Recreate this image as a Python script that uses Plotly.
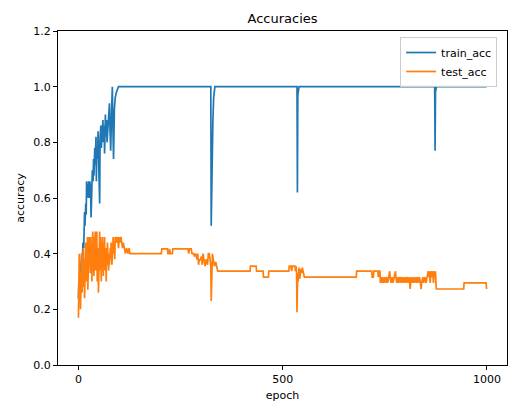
import plotly.graph_objects as go

# ---- data ----
train_epoch = [0, 1, 3, 5, 7, 8, 10, 11, 13, 14, 15, 16, 18, 19, 20, 21, 22, 24, 25, 27, 28, 30,
               31, 33, 34, 36, 37, 38, 40, 41, 43, 44, 45, 47, 48, 50, 52, 53, 55, 56, 58, 60,
               61, 63, 64, 66, 67, 69, 70, 72, 74, 76, 77, 79, 81, 83, 84, 86, 88, 90, 93, 96,
               98, 324, 325, 329, 331, 334, 535, 536, 537, 540, 872, 873, 874, 876, 999]
train_acc = [0.24, 0.30, 0.27, 0.34, 0.37, 0.40, 0.38, 0.44, 0.42, 0.52, 0.55, 0.50, 0.58, 0.54,
             0.66, 0.62, 0.65, 0.60, 0.66, 0.60, 0.66, 0.62, 0.53, 0.62, 0.70, 0.66, 0.74, 0.68,
             0.78, 0.72, 0.82, 0.66, 0.78, 0.74, 0.84, 0.70, 0.58, 0.82, 0.86, 0.78, 0.84, 0.88,
             0.80, 0.86, 0.76, 0.90, 0.82, 0.88, 0.80, 0.86, 0.92, 0.94, 0.86, 0.77, 0.90, 1.00,
             0.88, 0.74, 0.92, 0.96, 0.98, 0.99, 1.00, 1.00, 0.50, 0.87, 0.96, 1.00, 1.00, 0.62,
             0.97, 1.00, 1.00, 0.77, 0.98, 1.00, 1.00]

# test accuracy as (epoch, value) pairs, in segments
test_early = [(0, 0.17), (1, 0.28), (2, 0.40), (3, 0.24), (4, 0.33), (5, 0.20), (6, 0.36),
              (7, 0.30), (8, 0.40), (9, 0.26), (10, 0.38), (11, 0.33), (12, 0.42), (13, 0.28),
              (14, 0.38), (15, 0.24), (16, 0.40), (17, 0.35), (18, 0.44), (19, 0.30), (20, 0.42),
              (21, 0.36), (22, 0.46), (23, 0.27), (24, 0.40), (25, 0.34), (26, 0.46), (27, 0.38),
              (28, 0.42), (29, 0.33), (30, 0.46), (31, 0.36), (32, 0.44), (33, 0.30), (34, 0.40),
              (35, 0.48), (36, 0.36), (37, 0.44), (38, 0.32), (39, 0.46), (40, 0.40), (41, 0.48),
              (42, 0.34), (43, 0.44), (44, 0.38), (45, 0.48), (46, 0.30), (47, 0.42), (48, 0.36),
              (49, 0.26), (50, 0.44), (51, 0.38), (52, 0.48), (53, 0.34), (54, 0.46), (55, 0.40),
              (56, 0.30), (57, 0.44), (58, 0.36), (59, 0.46), (60, 0.40), (61, 0.32), (62, 0.44),
              (63, 0.38), (64, 0.46), (65, 0.34), (66, 0.42), (67, 0.38), (68, 0.30), (69, 0.42),
              (70, 0.36), (71, 0.44), (72, 0.38), (73, 0.42), (74, 0.34), (75, 0.40), (76, 0.36),
              (78, 0.42), (79, 0.38), (80, 0.44), (81, 0.40), (82, 0.36), (84, 0.42), (85, 0.46),
              (86, 0.40), (88, 0.44), (89, 0.38), (90, 0.46), (92, 0.44), (93, 0.46), (95, 0.44),
              (96, 0.46), (98, 0.42), (100, 0.46), (102, 0.44), (104, 0.46), (106, 0.44),
              (108, 0.42), (110, 0.44), (112, 0.42), (115, 0.40), (118, 0.42), (121, 0.40),
              (124, 0.42), (126, 0.40)]
test_mid = [(203, 0.40), (204, 0.417), (218, 0.417), (219, 0.40), (222, 0.40), (223, 0.417),
            (225, 0.40), (230, 0.40), (231, 0.417), (268, 0.417), (270, 0.40), (272, 0.417),
            (276, 0.417), (278, 0.40), (282, 0.40), (284, 0.39), (287, 0.40), (290, 0.38),
            (292, 0.40), (294, 0.36), (296, 0.38), (298, 0.376), (301, 0.39), (303, 0.36),
            (305, 0.40), (308, 0.38), (310, 0.355), (313, 0.38), (316, 0.36), (318, 0.40),
            (320, 0.40), (322, 0.38), (324, 0.355), (325, 0.23), (326, 0.36), (328, 0.40),
            (330, 0.38), (333, 0.355), (336, 0.37), (338, 0.355), (341, 0.337), (420, 0.337),
            (421, 0.355), (435, 0.355), (436, 0.337), (452, 0.337), (453, 0.316), (465, 0.316),
            (466, 0.337), (515, 0.337), (516, 0.355), (520, 0.355), (522, 0.337), (524, 0.355),
            (530, 0.355), (531, 0.337), (533, 0.355), (534, 0.33), (535, 0.19), (536, 0.27),
            (537, 0.33), (538, 0.30), (540, 0.35), (542, 0.31), (544, 0.345), (546, 0.33),
            (548, 0.35), (550, 0.33), (553, 0.316), (680, 0.316), (681, 0.337), (718, 0.337),
            (719, 0.316), (722, 0.316), (723, 0.337), (733, 0.337), (734, 0.316), (736, 0.337)]
test_late = [(738, 0.337), (739, 0.295), (741, 0.316), (743, 0.295), (745, 0.316), (747, 0.295),
             (750, 0.316), (752, 0.295), (755, 0.316), (757, 0.295), (760, 0.316), (762, 0.337),
             (763, 0.316), (765, 0.295), (768, 0.316), (770, 0.295), (773, 0.316), (776, 0.337),
             (777, 0.316), (779, 0.295), (781, 0.316), (783, 0.295), (786, 0.316), (788, 0.295),
             (790, 0.316), (793, 0.295), (795, 0.316), (798, 0.295), (800, 0.316), (803, 0.295),
             (805, 0.316), (808, 0.295), (810, 0.316), (812, 0.273), (813, 0.295), (815, 0.316),
             (817, 0.295), (820, 0.316), (822, 0.295), (825, 0.316), (827, 0.295), (830, 0.316),
             (832, 0.295), (835, 0.316), (837, 0.295), (839, 0.273), (840, 0.295), (843, 0.316),
             (845, 0.295), (848, 0.316), (851, 0.295), (853, 0.316), (856, 0.337), (857, 0.316),
             (859, 0.337), (861, 0.295), (863, 0.337), (865, 0.316), (867, 0.337), (869, 0.295),
             (871, 0.337), (873, 0.316), (874, 0.337), (875, 0.295), (876, 0.273), (943, 0.273),
             (944, 0.295), (998, 0.295), (999, 0.273)]

x_ticks = [0, 500, 1000]
y_ticks = [0.0, 0.2, 0.4, 0.6, 0.8, 1.0, 1.2]

test_points = test_early + test_mid + test_late
test_epoch = [p[0] for p in test_points]
test_acc = [p[1] for p in test_points]

font_family = "DejaVu Sans"

fig = go.Figure()
fig.add_trace(go.Scatter(x=train_epoch, y=train_acc, mode="lines", name="train_acc",
                         line=dict(color="#1f77b4", width=1.7)))
fig.add_trace(go.Scatter(x=test_epoch, y=test_acc, mode="lines", name="test_acc",
                         line=dict(color="#ff7f0e", width=1.7)))

axis_common = dict(showline=True, linecolor="black", linewidth=1, mirror=True,
                   ticks="outside", ticklen=4, tickwidth=1, tickcolor="black",
                   showgrid=False, zeroline=False,
                   tickfont=dict(family=font_family, size=11, color="black"))

fig.update_layout(
    width=510, height=403,
    margin=dict(l=58, r=3, t=31, b=38),
    paper_bgcolor="white", plot_bgcolor="white",
    font=dict(family=font_family, size=11, color="black"),
    title=dict(text="Accuracies", x=0.5, xref="paper", y=1 - 18 / 403, yref="container",
               xanchor="center", yanchor="middle",
               font=dict(family=font_family, size=13, color="black")),
    xaxis=dict(range=[-50, 1049], tickvals=x_ticks, ticktext=[str(v) for v in x_ticks],
               title=dict(text="epoch", standoff=6, font=dict(family=font_family, size=11)),
               **axis_common),
    yaxis=dict(range=[0, 1.2], tickvals=y_ticks, ticktext=[f"{v:.1f}" for v in y_ticks],
               title=dict(text="accuracy", standoff=6, font=dict(family=font_family, size=11)),
               **axis_common),
    legend=dict(x=0.978, y=0.982, xanchor="right", yanchor="top",
                bgcolor="rgba(255,255,255,0.8)", bordercolor="#cccccc", borderwidth=1,
                font=dict(family=font_family, size=11, color="black"),
                tracegroupgap=0),
    showlegend=True,
)

fig.write_html("out.html")
